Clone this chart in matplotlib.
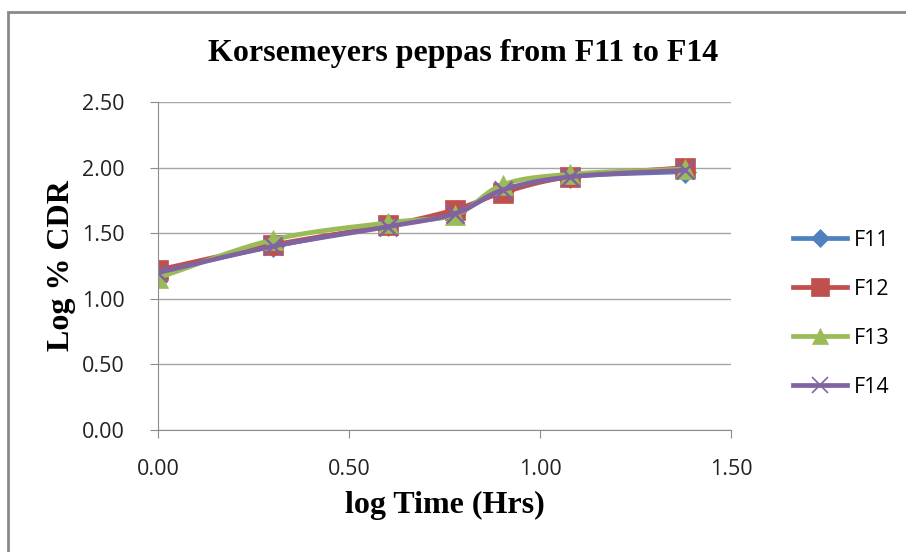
import numpy as np
import matplotlib.pyplot as plt
from matplotlib.patches import Rectangle

# log of sampling times 1, 2, 4, 6, 8, 12, 24 hrs
log_time = [0.00, 0.301, 0.602, 0.778, 0.903, 1.079, 1.380]

f11 = [1.21, 1.40, 1.56, 1.66, 1.82, 1.93, 1.97]
f12 = [1.22, 1.41, 1.56, 1.68, 1.81, 1.93, 2.00]
f13 = [1.16, 1.45, 1.58, 1.64, 1.87, 1.95, 1.99]
f14 = [1.20, 1.40, 1.55, 1.65, 1.83, 1.93, 1.98]

series = ['F11', 'F12', 'F13', 'F14']
colores = ['#4F81BD', '#C0504D', '#9BBB59', '#8064A2']
marcadores = ['D', 's', '^', 'x']
tamanhos = [11, 15, 14, 13]


def suavizar(x, y, n=20):
    # curva suave tipo Catmull-Rom passando pelos pontos
    x = np.asarray(x, float)
    y = np.asarray(y, float)
    px = np.concatenate([[2 * x[0] - x[1]], x, [2 * x[-1] - x[-2]]])
    py = np.concatenate([[2 * y[0] - y[1]], y, [2 * y[-1] - y[-2]]])
    xs, ys = [], []
    t = np.linspace(0, 1, n)
    for i in range(1, len(px) - 2):
        for p, out in ((px, xs), (py, ys)):
            p0, p1, p2, p3 = p[i - 1], p[i], p[i + 1], p[i + 2]
            out.extend(0.5 * (2 * p1 + (-p0 + p2) * t
                              + (2 * p0 - 5 * p1 + 4 * p2 - p3) * t ** 2
                              + (-p0 + 3 * p1 - 3 * p2 + p3) * t ** 3))
    return xs, ys


fig = plt.figure(figsize=(9.06, 5.52), dpi=100)
fig.patches.append(Rectangle((8 / 906, -0.1), 1.2, (552 - 12) / 552 + 0.1,
                             transform=fig.transFigure, fill=False,
                             edgecolor='#8a8a8a', linewidth=2))
ax = fig.add_axes([158 / 906, 122 / 552, 573 / 906, 328 / 552])

fonte_num = ['Open Sans', 'DejaVu Sans']
for nome, ys, cor, m, ms in zip(series, [f11, f12, f13, f14], colores, marcadores, tamanhos):
    sx, sy = suavizar(log_time, ys)
    ax.plot(sx, sy, color=cor, linewidth=3.4, solid_capstyle='round')
    ax.plot(log_time, ys, linestyle='none', marker=m, color=cor, markersize=ms,
            markeredgewidth=1.8 if m == 'x' else 0.5)
    ax.plot([], [], color=cor, linewidth=3.4, marker=m, markersize=ms * 0.85,
            markeredgewidth=1.2 if m == 'x' else 0.5, label=nome)

ax.set_xlim(0, 1.5)
ax.set_ylim(0, 2.5)
ax.set_xticks(np.arange(0, 1.51, 0.5))
ax.set_yticks(np.arange(0, 2.51, 0.5))
ax.set_xticklabels(['%.2f' % v for v in np.arange(0, 1.51, 0.5)])
ax.set_yticklabels(['%.2f' % v for v in np.arange(0, 2.51, 0.5)])
ax.grid(axis='y', color='#a6a6a6', linewidth=1)
ax.set_axisbelow(True)
for lado in ['top', 'right']:
    ax.spines[lado].set_visible(False)
for lado in ['left', 'bottom']:
    ax.spines[lado].set_color('#8c8c8c')
ax.tick_params(colors='#8c8c8c', length=6, labelcolor='#222222', labelsize=15.5)
ax.tick_params(axis='x', pad=15)
ax.tick_params(axis='y', pad=18)
for lbl in ax.get_xticklabels() + ax.get_yticklabels():
    lbl.set_family(fonte_num)

ax.set_xlabel('log Time (Hrs)', family='Liberation Serif', fontweight='bold', fontsize=23)
ax.set_ylabel('Log % CDR', family='Liberation Serif', fontweight='bold', fontsize=23)
ax.xaxis.set_label_coords(0.5, (430 - 505) / 328)
ax.yaxis.set_label_coords((62 - 158) / 573, 0.5)
ax.xaxis.label.set_va('center')
ax.yaxis.label.set_va('center')
fig.text(463 / 906, 1 - 53 / 552, 'Korsemeyers peppas from F11 to F14',
         family='Liberation Serif', fontweight='bold', fontsize=23,
         ha='center', va='center')

fig.legend(loc='center left', bbox_to_anchor=(793 / 906, 1 - 314 / 552),
           borderaxespad=0, borderpad=0, frameon=False,
           handlelength=2.5, handletextpad=0.35, labelspacing=1.3,
           prop={'family': fonte_num, 'size': 15.5})

fig.savefig('out.png', dpi=100)
